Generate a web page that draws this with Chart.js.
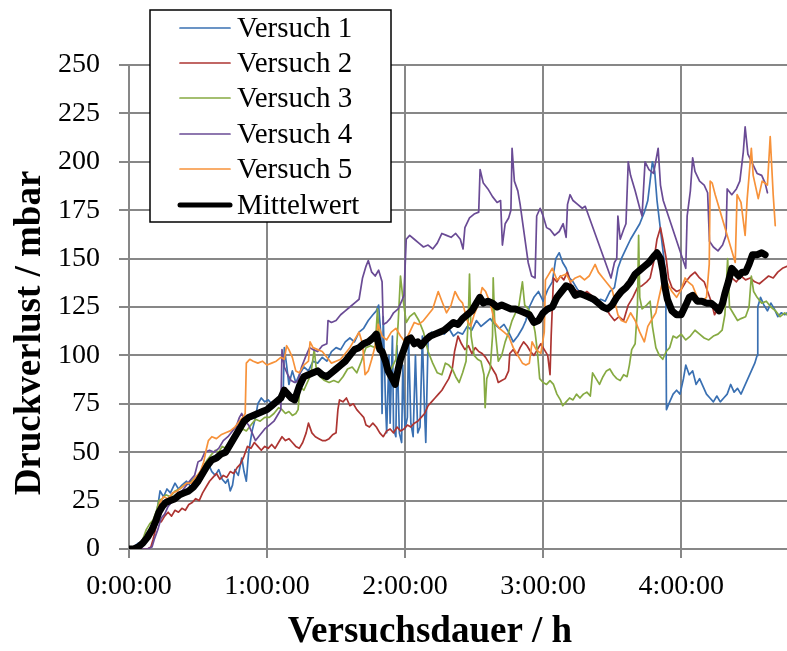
<!DOCTYPE html>
<html>
<head>
<meta charset="utf-8">
<script src="https://cdn.jsdelivr.net/npm/chart.js@4/dist/chart.umd.min.js"></script>
<style>
  body { margin: 0; background: #fff; }
  #wrap { width: 787px; height: 651px; }
</style>
</head>
<body>
<div id="wrap"><canvas id="druckChart" width="787" height="651"></canvas></div>
<script>
// [Minuten, mbar]
const versuch1 = [[0,0],[2,1],[4,3],[6,4],[8,6],[10,8],[11.5,12],[12.5,22],[13.5,30],[15,27],[16.5,31],[18,29],[20,34],[21.5,31],[23,33],[25,35],[27,32],[28.5,36],[30,34],[31.5,37],[33,39],[34.5,44],[36,40],[37.5,38],[39,41],[40.5,36],[42,34],[43,36],[44,30],[45,33],[46,41],[47.5,38],[49,47],[50,40],[51,35],[52,50],[53.5,61],[55,68],[56,75],[57.5,78],[59,76],[60.5,77],[62,75],[64,77],[65.5,76],[67,80],[67.5,104],[68.5,95],[69.5,85],[71,92],[72.5,86],[74,90],[76,94],[78,92],[80,97],[82,96],[84,99],[86,97],[88,102],[90,104],[92,103],[94,107],[96,109],[98,107],[100,112],[102,114],[104,118],[106,121],[107.5,123],[108.5,126],[109.5,110],[110,70],[110.5,120],[111.5,75],[112,60],[113,100],[113.5,65],[114.5,110],[115,62],[116,58],[116.5,105],[117.5,60],[118.5,55],[119,95],[120,62],[121,68],[121.5,110],[122.5,65],[123.5,58],[124.5,100],[125.5,60],[126.5,63],[127.5,110],[128.5,70],[129,55],[130,108],[131.5,112],[133,110],[135,113],[137,111],[139,114],[141,110],[143,112],[145,111],[147,115],[149,113],[151,118],[153,115],[155,117],[157,119],[159,116],[161,114],[163,116],[165,112],[167,107],[169,110],[171,114],[172.5,118],[174,125],[176,130],[178,133],[180,128],[182,134],[184,138],[185.5,150],[187,153],[188.5,148],[190,145],[191.5,140],[193,138],[195,134],[197,131],[199,130],[201,128],[203,127],[205,129],[207,128],[209,133],[211,135],[212.5,145],[214,150],[216,155],[218,160],[220,164],[222,168],[224,174],[225.5,180],[226.5,190],[227.5,200],[228.5,195],[229.5,180],[231,165],[232.5,150],[233.3,140],[233.6,72],[235,76],[236.5,80],[238,82],[239.5,80],[241,88],[242,95],[243.5,90],[245,92],[246.5,85],[248,88],[249.5,84],[251,80],[252.5,78],[254,76],[255.5,79],[257,76],[258.5,78],[260,80],[261.5,85],[263,81],[264.5,83],[266,80],[267.5,84],[269,88],[270.5,92],[272,96],[273,100],[273.3,125],[274.5,130],[276,126],[277.5,123],[279,127],[280.5,124],[282,120],[283.5,122],[285,121],[286,122]];

const versuch2 = [[0,0],[3,0],[6,0],[8,0],[9.5,1],[10.5,5],[11.5,10],[12.5,15],[14,14],[15.5,17],[17,19],[18.5,17],[20,20],[21.5,19],[23,21],[24.5,20],[26,23],[27.5,24],[29,26],[30.5,25],[32,29],[33.5,32],[35,35],[36.5,37],[38,39],[39.5,36],[41,38],[42.5,37],[44,40],[45.5,39],[47,42],[48.5,44],[50,48],[51.5,53],[53,52],[54.5,55],[56,53],[57.5,51],[59,53],[60.5,52],[62,54],[63.5,52],[65,55],[66.5,58],[68,56],[69.5,57],[71,55],[72.5,53],[74,52],[75.5,55],[77,60],[78,65],[79.5,60],[81,58],[82.5,57],[84,56],[85.5,56],[87,57],[88.5,59],[90,60],[90.8,72],[91.5,77],[93,76],[94.5,78],[96,74],[97.5,75],[99,72],[100.5,70],[102,68],[103,64],[104.5,63],[106,65],[107.5,63],[109,60],[110.5,58],[112,61],[113.5,62],[115,60],[116.5,63],[118,61],[119.5,62],[121,64],[122.5,63],[124,65],[125.5,66],[127,68],[128.5,70],[130,74],[131.5,76],[133,78],[134.5,80],[136,82],[137.5,85],[139,88],[140.5,93],[141.5,102],[143,110],[144.5,106],[146,103],[147.5,105],[149,101],[150.5,104],[152,102],[153.5,101],[155,99],[156.5,96],[158,93],[159.5,90],[160.5,86],[162,87],[163.5,88],[165,92],[165.5,101],[167,103],[168.5,100],[170,104],[171.5,107],[173,105],[174.5,102],[176,100],[177.5,103],[179,106],[180.5,103],[182,100],[183,90],[183.5,110],[184.5,140],[186,138],[187.5,141],[189,139],[190.5,143],[192,137],[193.5,134],[195,133],[197,131],[199,133],[201,131],[203,128],[205,127],[207,125],[209,121],[211,118],[213,120],[215,118],[217,126],[219,130],[221,135],[223,136],[225,138],[226.5,140],[228,148],[229.5,160],[231,166],[232,160],[233.5,150],[234.5,140],[236,135],[238,133],[240,134],[242,138],[244,141],[246,143],[248,140],[250,138],[251.5,133],[253,128],[254.5,121],[256,124],[257.5,128],[259,134],[260.5,142],[262,140],[264,138],[266,141],[268,139],[270,140],[272,138],[274,137],[276,139],[278,141],[280,140],[282,143],[284,145],[286,146]];

const versuch3 = [[0,0],[2,1],[4,2],[6,5],[7.5,10],[9,13],[10.5,15],[12,20],[13,25],[14.5,26],[16,28],[18,27],[20,30],[22,31],[24,33],[26,34],[28,36],[30,38],[32,42],[34,46],[36,49],[37.5,51],[39,50],[40.5,53],[42,52],[43.5,55],[45,58],[46.5,57],[48,60],[49.5,62],[51,61],[53,64],[55,67],[57,66],[59,68],[61,68],[63,70],[65,73],[66.5,72],[68,70],[69.5,71],[71,69],[72.5,70],[73.5,72],[74.3,84],[76,82],[77.5,86],[79,90],[80.5,103],[81.5,92],[83,89],[85,87],[87,86],[89,87],[91,86],[93,89],[95,93],[97,94],[99,91],[101,97],[103,104],[105,105],[107,104],[108,124],[109,105],[110.5,97],[112,94],[114,93],[116,98],[117,117],[118,141],[119,130],[120.5,117],[122,120],[124,122],[126,118],[128,112],[130,102],[132,96],[134,91],[136,90],[137.5,96],[139,95],[140.5,93],[142,89],[143.5,86],[145,91],[146.5,97],[147.5,120],[148,142],[148.7,110],[150,100],[151.5,98],[153,97],[154.3,90],[154.8,73],[155.5,88],[157,93],[158,110],[158.3,140],[159,115],[160.5,97],[162,100],[163.5,107],[165,112],[166.5,118],[168,122],[169.5,126],[171,138],[172,126],[173.5,124],[175,121],[176.5,112],[177.5,102],[178.5,88],[180,86],[181.5,85],[183,87],[184.5,85],[186,80],[187.5,77],[188.5,74],[190,76],[191.5,78],[193,77],[194.5,80],[196,78],[197.5,80],[199,81],[200.5,79],[201.5,91],[203,88],[204.5,85],[206,89],[207.5,92],[209,93],[210.5,90],[212,88],[213.5,87],[215,90],[216.5,89],[217.5,95],[218.5,103],[220,106],[221,125],[221.5,162],[222,130],[223,124],[225,126],[226.5,128],[227.5,115],[229,104],[230.5,100],[232,98],[233.5,102],[235,104],[236.5,110],[238,109],[240,111],[242,108],[244,110],[246,113],[248,111],[250,109],[252,108],[254,110],[256,111],[257.8,113],[259,121],[260.2,150],[261,125],[263,121],[264.5,118],[266,119],[268,120],[269.5,125],[270.5,141],[271.5,133],[273,130],[275,127],[277,128],[279,125],[281,123],[283,120],[285,122],[286,121]];

const versuch4 = [[0,0],[4,0],[8,0],[10,1],[11,5],[12.5,10],[14,16],[15.5,18],[17,22],[19,25],[21,28],[23,30],[25,33],[27,36],[28.5,38],[30,45],[31.5,46],[33,50],[35,51],[37,50],[39,52],[41,56],[43,58],[45,61],[46.5,63],[48,68],[49,70],[50.5,66],[52,64],[53.5,60],[55,56],[57,59],[59,62],[61,64],[63,66],[65,70],[66,72],[66.5,103],[67.5,94],[69,90],[70.5,87],[72,86],[73.5,87],[75,94],[77,100],[78.5,104],[80,103],[82,102],[84,105],[86,106],[86.5,118],[88,117],[90,118],[92,121],[94,123],[96,125],[98,127],[100,129],[101.5,140],[103,146],[104,149],[105.5,143],[107,141],[108.5,144],[110,138],[110.5,116],[112,117],[113.5,119],[115,122],[117,124],[118.5,128],[119.5,131],[120.5,160],[122,162],[124,160],[126,158],[128,156],[130,157],[132,155],[134,158],[136,163],[138,162],[140,161],[142,163],[144,160],[145.2,155],[146,166],[148,171],[150,173],[152,174],[152.6,196],[154,189],[156,186],[158,182],[160,179],[161.5,180],[162.3,157],[163.5,168],[165,171],[166,175],[166.5,207],[167.5,190],[169,185],[170,178],[173.5,148],[175,141],[176.5,140],[177.2,172],[178.7,176],[180,172],[181.5,166],[183,165],[185,162],[187,164],[188.7,168],[190,161],[190.6,178],[191.7,183],[193,180],[195,178],[197,176],[198.3,177],[209.5,140],[211,148],[212,150],[212.5,172],[213.5,160],[215,165],[216,168],[217,200],[218,193],[220,185],[222,176],[223,172],[224.3,200],[226,196],[228,194],[230,207],[231,188],[232.2,180],[242,145],[242.6,172],[244,185],[245,202],[246,195],[248,190],[250,188],[251.5,184],[252.3,159],[254,156],[256,154],[258,157],[259.5,162],[260,186],[262,183],[264,186],[265.5,190],[267,205],[267.8,218],[269,204],[271,199],[273,194],[275,193],[276.5,189],[277.5,184]];

const versuch5 = [[0,0],[2,0],[4,2],[6,3],[8,6],[10,12],[12,18],[13.5,24],[15,27],[17,26],[19,29],[21,30],[23,32],[25,34],[27,34],[29,37],[31,40],[32.5,45],[33.5,51],[34.5,56],[36,58],[38,57],[40,59],[42,60],[44,61],[46,63],[48,66],[49.5,68],[50.5,70],[51,96],[52.5,98],[54,97],[56,96],[58,97],[60,95],[62,96],[64,97],[66,99],[67.5,98],[68.5,105],[69.5,103],[71,99],[72.5,92],[74,91],[76,95],[78,97],[78.7,107],[80,104],[82,103],[84,102],[86,99],[88,96],[90,97],[92,98],[94,101],[96,104],[98,108],[100,112],[101.5,106],[102.6,90],[104,92],[105.5,98],[107,105],[108.3,116],[110,110],[112,108],[114,112],[116,114],[118,110],[120,107],[122,112],[124,117],[126,116],[128,118],[130,121],[132,124],[134.4,133],[136,128],[138,122],[140,126],[141.7,133],[143.5,129],[145,127],[147,118],[148.5,115],[150,121],[152,127],[153.5,135],[155,133],[157,127],[159,117],[161,114],[163,112],[165,110],[167,104],[169,100],[171,96],[172.5,95],[174,96],[175.2,107],[177,103],[179,101],[180.5,112],[181,139],[182.5,142],[184,145],[186,139],[188,141],[190,142],[192,138],[194,140],[196,141],[198,139],[200,141],[202.6,147],[204,143],[206,140],[208,137],[210,134],[212.5,121],[214,118],[216,117],[218,122],[220,118],[222,112],[224,107],[225.5,115],[227,118],[229,122],[230,128],[231.5,136],[233,140],[234.5,136],[236,133],[238,130],[240,134],[241.7,140],[243,138],[245,136],[247,130],[249,128],[251,130],[252.2,147],[252.6,190],[253.5,189],[254.8,183],[263.5,148],[264.3,183],[266,179],[267.8,162],[268.7,181],[270.5,207],[271.3,193],[273.5,181],[275.2,190],[277.5,188],[278.7,213],[280,183],[280.9,167]];

const mittelwert = [[0,0],[2,0],[4,1],[6,3],[8,6],[10,10],[11.5,14],[13,19],[14.5,22],[16,24],[18,25],[20,26],[22,28],[24,29],[26,30],[28,32],[30,35],[32,39],[34,43],[36,46],[38,47],[40,49],[42,50],[44,54],[46,58],[48,62],[50,66],[52,68],[54,69],[56,70],[58,71],[60,72],[62,74],[64,76],[66,78],[67.5,82],[69,80],[70.5,78],[72,77],[74,84],[76,89],[78,90],[80,91],[82,92],[84,90],[86,89],[88,91],[90,93],[92,95],[94,97],[96,100],[98,103],[100,104],[102,106],[104,107],[106,109],[107.5,111],[109,103],[110,102],[111.5,97],[112.6,92],[114,89],[115.7,85],[117,93],[118,98],[119.5,103],[121,108],[122.5,109],[124,106],[125.5,107],[127,105],[129,108],[131,110],[133,111],[135,112],[137,113],[139,115],[141,117],[143,116],[145,119],[147,121],[149,123],[151,127],[152.5,130],[154,127],[156,128],[158,127],[160,125],[162,126],[164,125],[166,124],[168,124],[170,123],[172,122],[174,121],[176,117],[178,118],[180,122],[182,124],[184,125],[186,130],[188,133],[190,136],[192,135],[194,131],[196,132],[198,131],[200,130],[202,129],[204,127],[206,125],[208,124],[210,126],[212,130],[214,133],[216,135],[218,138],[220,142],[222,144],[224,146],[226,148],[228,151],[229.5,153],[231,150],[232,144],[233,135],[234,129],[236,123],[238,121],[240,121],[242,126],[243.5,130],[245,131],[247,128],[249,128],[251,127],[253,127],[255,125],[256.5,123],[258,127],[259,132],[260.5,138],[262,145],[263.5,143],[265,141],[266.5,143],[268,143],[269.5,147],[271,152],[273,152],[275,153],[276.5,152]];

const seriesNames = ['Versuch 1', 'Versuch 2', 'Versuch 3', 'Versuch 4', 'Versuch 5', 'Mittelwert'];
const seriesData = [versuch1, versuch2, versuch3, versuch4, versuch5, mittelwert];
const seriesColors = ['#3a70b2', '#ad3532', '#86aa42', '#6a4b95', '#f7923a', '#000000'];
const seriesWidths = [1.7, 1.7, 1.7, 1.7, 1.7, 7];
const hourTicks = [0, 60, 120, 180, 240];

const serif = "'Liberation Serif', 'Times New Roman', serif";

const datasets = seriesNames.map((name, i) => ({
    label: name,
    data: seriesData[i].map(p => ({ x: p[0], y: p[1] })),
    borderColor: seriesColors[i],
    backgroundColor: seriesColors[i],
    borderWidth: seriesWidths[i],
    pointRadius: 0,
    tension: 0,
    borderCapStyle: 'round',
    borderJoinStyle: 'round',
    // Mittelwert on top, then Versuch 5 ... Versuch 1
    order: i === 5 ? 0 : 6 - i
}));

// legend box and axis titles drawn straight onto the canvas
const extras = {
    id: 'extras',
    afterDraw(chart) {
        const ctx = chart.ctx;
        ctx.save();

        // legend
        ctx.fillStyle = '#fff';
        ctx.fillRect(150, 10, 241, 212);
        ctx.strokeStyle = '#000';
        ctx.lineWidth = 1.5;
        ctx.strokeRect(150, 10, 241, 212);
        ctx.font = '29px ' + serif;
        ctx.textBaseline = 'middle';
        ctx.textAlign = 'left';
        const rows = [28, 63, 98, 134, 169, 205];
        chart.data.datasets.forEach((ds, i) => {
            const y = rows[i];
            ctx.beginPath();
            ctx.strokeStyle = ds.borderColor;
            ctx.lineWidth = i === 5 ? 5 : 1.7;
            ctx.lineCap = 'round';
            ctx.moveTo(180, y);
            ctx.lineTo(230, y);
            ctx.stroke();
            ctx.fillStyle = '#000';
            ctx.fillText(ds.label, 237, y + 1);
        });

        // axis titles
        ctx.font = 'bold 37px ' + serif;
        ctx.textAlign = 'center';
        ctx.fillStyle = '#000';
        ctx.fillText('Versuchsdauer / h', 430, 632);
        ctx.translate(30, 333);
        ctx.rotate(-Math.PI / 2);
        ctx.fillText('Druckverlust / mbar', 0, 0);
        ctx.restore();
    }
};

new Chart(document.getElementById('druckChart'), {
    type: 'line',
    data: { datasets: datasets },
    plugins: [extras],
    options: {
        responsive: false,
        animation: false,
        events: [],
        layout: { padding: { top: 65, left: 0, right: 0, bottom: 0 } },
        plugins: {
            legend: { display: false },
            tooltip: { enabled: false }
        },
        scales: {
            x: {
                type: 'linear',
                min: 0,
                max: 286,
                afterBuildTicks: scale => {
                    scale.ticks = hourTicks.map(v => ({ value: v }));
                },
                afterFit: scale => { scale.height = 102; },
                ticks: {
                    includeBounds: false,
                    padding: 12,
                    color: '#000',
                    font: { family: serif, size: 28 },
                    maxRotation: 0,
                    callback: v => Math.floor(v / 60) + ':00:00'
                },
                grid: { color: '#878787', lineWidth: 2, tickLength: 9 },
                border: { color: '#878787', width: 2 }
            },
            y: {
                min: 0,
                max: 250,
                afterFit: scale => { scale.width = 129; },
                ticks: {
                    stepSize: 25,
                    padding: 19,
                    color: '#000',
                    font: { family: serif, size: 28 }
                },
                grid: { color: '#878787', lineWidth: 2, tickLength: 10 },
                border: { color: '#878787', width: 2 }
            }
        }
    }
});
</script>
</body>
</html>
